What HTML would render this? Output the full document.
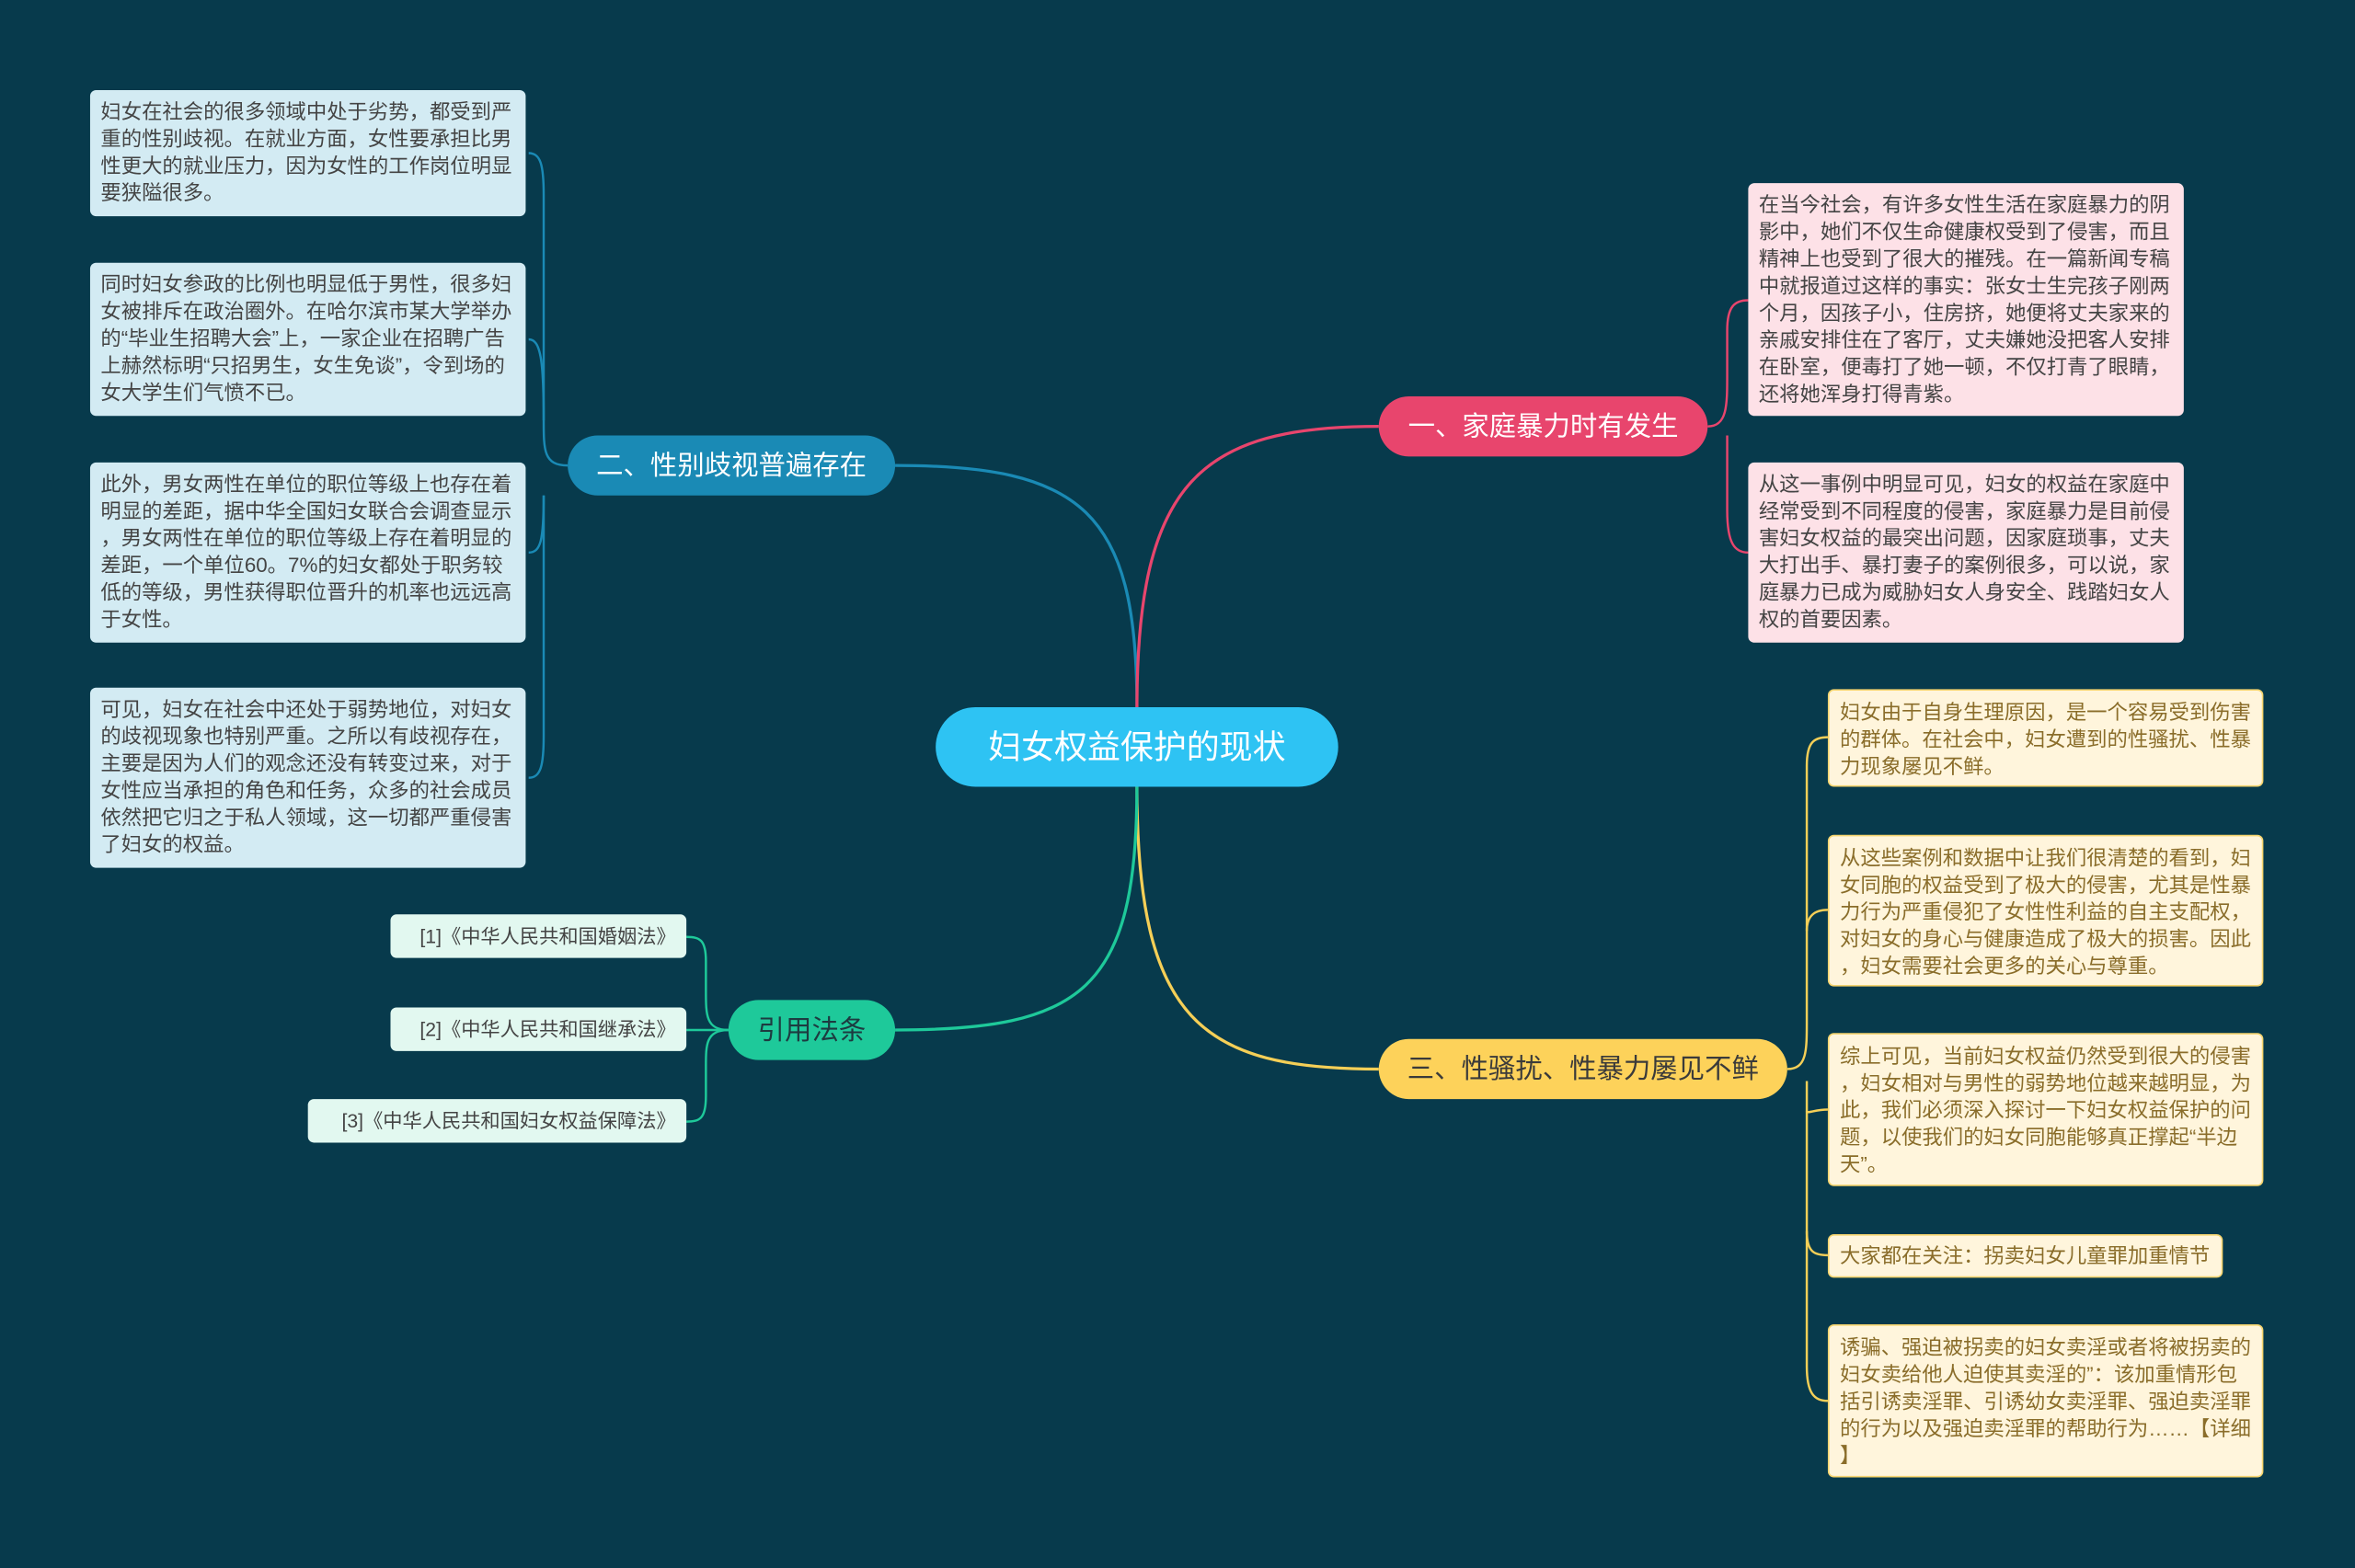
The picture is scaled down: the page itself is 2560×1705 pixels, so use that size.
<!DOCTYPE html>
<html><head><meta charset="utf-8"><style>
html,body{margin:0;padding:0;background:#073a4c;overflow:hidden;width:2560px;height:1705px}
#s{position:absolute;left:0;top:0;width:1568px;height:1044px;transform:scale(1.63265);transform-origin:0 0;font-family:"Liberation Sans","Noto Sans CJK SC",sans-serif}
.b{position:absolute;box-sizing:border-box;font-size:13.7px;line-height:18px;padding:6px 7px 6px 7px;border-radius:4px;color:#444;word-break:break-all;line-break:anywhere}
.L{background:#d3ebf3;left:60px;width:290px}
.P{background:#fde1e7;left:1164px;width:290px}
.Y{background:#fff5dc;left:1217px;width:290px;border:1px solid #f5d46e;color:#8a6d2a}
.C{background:#e2f8f0;height:29px;line-height:17px;padding:6px 7px;text-align:right}
.n{position:absolute;box-sizing:border-box;border-radius:20px;text-align:center;font-size:18px;line-height:40px;height:40px;color:#fff}
</style></head><body><div id="s">
<svg width="1568" height="1044" style="position:absolute;left:0;top:0" fill="none" stroke-width="2">
<path d="M757,471 C757,340 720,310 596,310" stroke="#1a8ab5"/>
<path d="M757,471 C757,320 800,284 918,284" stroke="#e8456d"/>
<path d="M757,524 C757,680 800,712 918,712" stroke="#f5cf57"/>
<path d="M757,524 C757,660 720,686 596,686" stroke="#1ec99a"/>
<g stroke="#1a8ab5" stroke-width="1.5">
<path d="M378,310 C362,310 362,300 362,280 L362,130 C362,110 360,102 352,102"/>
<path d="M362,280 C362,240 360,226 352,226"/>
<path d="M362,330 C362,360 360,368 352,368"/>
<path d="M362,330 L362,490 C362,510 360,518 352,518"/>
</g>
<g stroke="#e8456d" stroke-width="1.5">
<path d="M1137,284 C1150,284 1150,270 1150,250 L1150,220 C1150,204 1155,200 1164,200"/>
<path d="M1150,290 L1150,340 C1150,362 1155,368 1164,368"/>
</g>
<g stroke="#f5cf57" stroke-width="1.5">
<path d="M1190,712 C1203,712 1203,700 1203,680 L1203,510 C1203,494 1208,491 1217,491"/>
<path d="M1203,620 C1203,610 1208,606 1217,606"/>
<path d="M1203,740 C1203,742 1208,739 1217,739"/>
<path d="M1203,720 L1203,820 C1203,834 1208,836 1217,836"/>
<path d="M1203,820 L1203,910 C1203,928 1208,933 1217,933"/>
</g>
<g stroke="#1ec99a" stroke-width="1.5">
<path d="M485,686 C470,686 470,676 470,660 L470,640 C470,626 466,624 457,624"/>
<path d="M485,686 L457,686"/>
<path d="M485,686 C470,686 470,696 470,710 L470,730 C470,745 466,747 457,747"/>
</g>
</svg>
<div class="n" style="left:623px;top:471px;width:268px;height:53px;line-height:53px;border-radius:27px;background:#2ec3f3;font-size:22px">妇女权益保护的现状</div>
<div class="n" style="left:378px;top:290px;width:218px;background:#1a8ab5">二、性别歧视普遍存在</div>
<div class="n" style="left:918px;top:264px;width:219px;background:#e8456d">一、家庭暴力时有发生</div>
<div class="n" style="left:918px;top:692px;width:272px;background:#fdd25a;color:#3a3a3a">三、性骚扰、性暴力屡见不鲜</div>
<div class="n" style="left:485px;top:666px;width:111px;background:#1ec99a;color:#1d3b40">引用法条</div>

<div class="b L" style="top:60px;height:84px">妇女在社会的很多领域中处于劣势，都受到严重的性别歧视。在就业方面，女性要承担比男性更大的就业压力，因为女性的工作岗位明显要狭隘很多。</div>
<div class="b L" style="top:175px;height:102px">同时妇女参政的比例也明显低于男性，很多妇女被排斥在政治圈外。在哈尔滨市某大学举办的“毕业生招聘大会”上，一家企业在招聘广告上赫然标明“只招男生，女生免谈”，令到场的女大学生们气愤不已。</div>
<div class="b L" style="top:308px;height:120px">此外，男女两性在单位的职位等级上也存在着明显的差距，据中华全国妇女联合会调查显示，男女两性在单位的职位等级上存在着明显的差距，一个单位60。7%的妇女都处于职务较低的等级，男性获得职位晋升的机率也远远高于女性。</div>
<div class="b L" style="top:458px;height:120px">可见，妇女在社会中还处于弱势地位，对妇女的歧视现象也特别严重。之所以有歧视存在，主要是因为人们的观念还没有转变过来，对于女性应当承担的角色和任务，众多的社会成员依然把它归之于私人领域，这一切都严重侵害了妇女的权益。</div>

<div class="b C" style="top:609px;left:260px;width:197px;font-size:13px">[1]《中华人民共和国婚姻法》</div>
<div class="b C" style="top:671px;left:260px;width:197px;font-size:13px">[2]《中华人民共和国继承法》</div>
<div class="b C" style="top:732px;left:205px;width:252px;font-size:13px">[3]《中华人民共和国妇女权益保障法》</div>

<div class="b P" style="top:122px;height:155px">在当今社会，有许多女性生活在家庭暴力的阴影中，她们不仅生命健康权受到了侵害，而且精神上也受到了很大的摧残。在一篇新闻专稿中就报道过这样的事实：张女士生完孩子刚两个月，因孩子小，住房挤，她便将丈夫家来的亲戚安排住在了客厅，丈夫嫌她没把客人安排在卧室，便毒打了她一顿，不仅打青了眼睛，还将她浑身打得青紫。</div>
<div class="b P" style="top:308px;height:120px">从这一事例中明显可见，妇女的权益在家庭中经常受到不同程度的侵害，家庭暴力是目前侵害妇女权益的最突出问题，因家庭琐事，丈夫大打出手、暴打妻子的案例很多，可以说，家庭暴力已成为威胁妇女人身安全、践踏妇女人权的首要因素。</div>

<div class="b Y" style="top:459px;height:65px">妇女由于自身生理原因，是一个容易受到伤害的群体。在社会中，妇女遭到的性骚扰、性暴力现象屡见不鲜。</div>
<div class="b Y" style="top:556px;height:101px">从这些案例和数据中让我们很清楚的看到，妇女同胞的权益受到了极大的侵害，尤其是性暴力行为严重侵犯了女性性利益的自主支配权，对妇女的身心与健康造成了极大的损害。因此，妇女需要社会更多的关心与尊重。</div>
<div class="b Y" style="top:688px;height:102px">综上可见，当前妇女权益仍然受到很大的侵害，妇女相对与男性的弱势地位越来越明显，为此，我们必须深入探讨一下妇女权益保护的问题，以使我们的妇女同胞能够真正撑起“半边天”。</div>
<div class="b Y" style="top:822px;height:29px;width:263px;padding-top:5px">大家都在关注：拐卖妇女儿童罪加重情节</div>
<div class="b Y" style="top:882px;height:102px">诱骗、强迫被拐卖的妇女卖淫或者将被拐卖的妇女卖给他人迫使其卖淫的”：该加重情形包括引诱卖淫罪、引诱幼女卖淫罪、强迫卖淫罪的行为以及强迫卖淫罪的帮助行为……【详细】</div>
</div></body></html>
